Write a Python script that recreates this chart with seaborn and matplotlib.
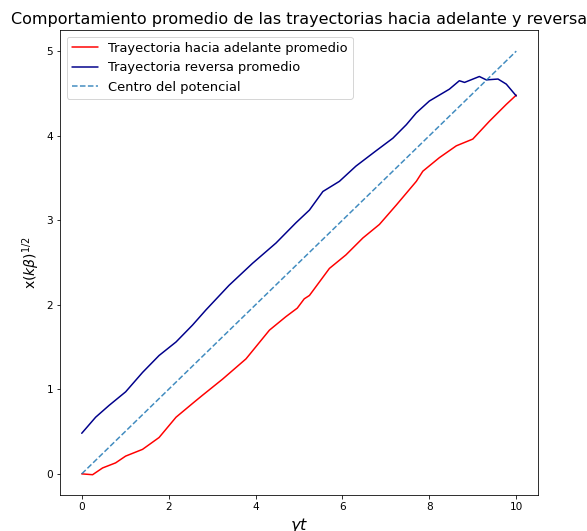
import matplotlib
matplotlib.use("Agg")
import matplotlib.pyplot as plt
import seaborn as sns
import pandas as pd

# Tiempo adimensional y posiciones promedio
t_adelante = [0.00, 0.25, 0.48, 0.78, 1.01, 1.40, 1.78, 2.17, 2.59, 2.78, 3.24,
              3.78, 4.32, 4.70, 4.96, 5.12, 5.24, 5.70, 6.08, 6.47, 6.85, 7.24,
              7.70, 7.85, 8.23, 8.62, 9.00, 9.38, 9.77, 10.00]
x_adelante = [0.00, -0.01, 0.07, 0.13, 0.21, 0.29, 0.43, 0.67, 0.85, 0.93, 1.12,
              1.36, 1.70, 1.86, 1.96, 2.07, 2.11, 2.43, 2.59, 2.79, 2.95, 3.18,
              3.46, 3.58, 3.74, 3.88, 3.96, 4.17, 4.37, 4.48]

t_reversa = [0.00, 0.32, 0.63, 1.01, 1.40, 1.78, 2.17, 2.55, 2.86, 3.39, 3.93,
             4.47, 4.93, 5.24, 5.55, 5.93, 6.31, 6.77, 7.16, 7.47, 7.70, 8.00,
             8.46, 8.69, 8.81, 9.15, 9.31, 9.58, 9.77, 10.00]
x_reversa = [0.48, 0.67, 0.81, 0.97, 1.20, 1.40, 1.56, 1.76, 1.94, 2.23, 2.49,
             2.73, 2.97, 3.12, 3.34, 3.46, 3.64, 3.82, 3.97, 4.13, 4.27, 4.41,
             4.55, 4.65, 4.63, 4.70, 4.66, 4.67, 4.61, 4.47]

t_centro = [0.0, 10.0]
x_centro = [0.0, 5.0]

etiquetas = ["Trayectoria hacia adelante promedio",
             "Trayectoria reversa promedio",
             "Centro del potencial"]

sns.set_style("ticks")
plt.rcParams.update({
    "axes.edgecolor": "black",
    "xtick.color": "black",
    "ytick.color": "black",
    "text.color": "black",
    "axes.labelcolor": "black",
    "xtick.labelsize": 10.5,
    "ytick.labelsize": 10.5,
})

fig = plt.figure(figsize=(587 / 72, 531 / 72), dpi=72)
ax = fig.add_axes([60 / 587, 36 / 531, 478 / 587, 465 / 531])

df_ad = pd.DataFrame({"t": t_adelante, "x": x_adelante})
df_rev = pd.DataFrame({"t": t_reversa, "x": x_reversa})
df_cen = pd.DataFrame({"t": t_centro, "x": x_centro})

sns.lineplot(data=df_ad, x="t", y="x", color="red", linewidth=1.5,
             label=etiquetas[0], ax=ax)
sns.lineplot(data=df_rev, x="t", y="x", color="darkblue", linewidth=1.5,
             label=etiquetas[1], ax=ax)
sns.lineplot(data=df_cen, x="t", y="x", color="#1f77b4", alpha=0.85,
             linestyle="--", linewidth=1.5, label=etiquetas[2], ax=ax)

ax.set_xlim(-0.5, 10.5)
ax.set_ylim(-0.25, 5.25)
ax.set_xticks([0, 2, 4, 6, 8, 10])
ax.set_yticks([0, 1, 2, 3, 4, 5])

ax.set_title("Comportamiento promedio de las trayectorias hacia adelante y reversa",
             fontsize=16)
ax.set_xlabel(r"$\gamma t$", fontsize=16)
ax.set_ylabel(r"x$(k\beta)^{1/2}$", fontsize=14)

leg = ax.legend(loc="upper left", fontsize=13, frameon=True)
leg.get_frame().set_edgecolor("0.8")

fig.savefig("out.png", dpi=72)
